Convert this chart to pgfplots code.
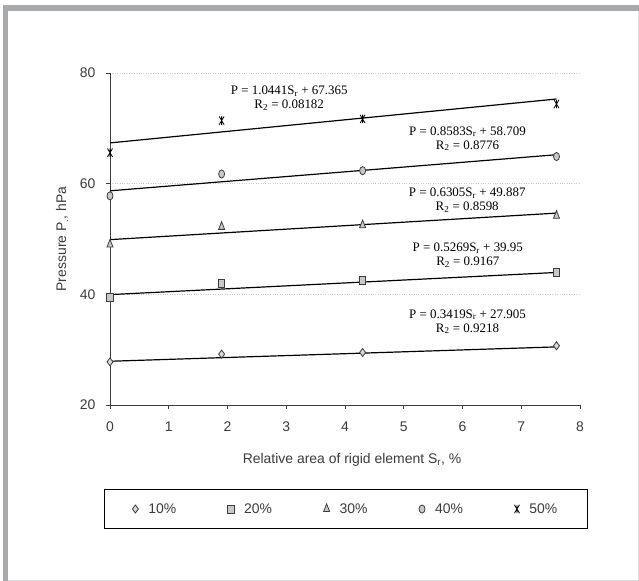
\documentclass[border=0pt]{standalone}
\usepackage{pgfplots}
\pgfplotsset{compat=1.18}
\usepackage{fontspec}
\setmainfont{Liberation Sans}
\newfontfamily\serifeq{Liberation Serif}
\definecolor{framegray}{RGB}{168,169,171}
\definecolor{framelight}{RGB}{225,225,225}
\definecolor{markgray}{RGB}{200,200,200}
\definecolor{axgray}{RGB}{60,60,60}

\pgfdeclareplotmark{xstar}{%
 \pgfpathmoveto{\pgfqpoint{-0.6\pgfplotmarksize}{-\pgfplotmarksize}}%
 \pgfpathlineto{\pgfqpoint{0.6\pgfplotmarksize}{\pgfplotmarksize}}%
 \pgfpathmoveto{\pgfqpoint{-0.6\pgfplotmarksize}{\pgfplotmarksize}}%
 \pgfpathlineto{\pgfqpoint{0.6\pgfplotmarksize}{-\pgfplotmarksize}}%
 \pgfpathmoveto{\pgfqpoint{0pt}{-\pgfplotmarksize}}%
 \pgfpathlineto{\pgfqpoint{0pt}{\pgfplotmarksize}}%
 \pgfusepathqstroke}

\newcommand{\eqfont}{\serifeq\fontsize{13}{14}\selectfont}

\begin{document}
\begin{tikzpicture}
\begin{scope}[shift={(-110bp,-176bp)}]
\fill[white] (0bp,0bp) rectangle (639bp,581bp);
\fill[framegray] (3bp,0bp) rectangle (8bp,576bp);
\fill[framegray] (3bp,570bp) rectangle (639bp,576bp);
\draw[framelight, line width=1bp] (8bp,1bp) -- (638bp,1bp) -- (638bp,570bp);
\end{scope}
\begin{axis}[
  scale only axis, width=470bp, height=332bp,
  clip=false,
  axis lines*=left,
  axis line style={line width=0.8bp, axgray},
  tick style={axgray, line width=0.8bp},
  tick align=outside,
  major tick length=4bp,
  xmin=0, xmax=8, ymin=20, ymax=80,
  xtick={0,1,2,3,4,5,6,7,8}, ytick={20,40,60,80},
  ymajorgrids, grid style={dotted, black!20, line width=0.6bp},
  tick label style={font=\fontsize{14}{16}\selectfont, text=axgray},
  xticklabel style={yshift=-9bp},
  yticklabel style={xshift=-7bp},
  label style={font=\fontsize{14}{16}\selectfont, text=axgray},
  /pgf/number format/assume math mode=true,
  xlabel={Relative area of rigid element S\textsubscript{r}, \%},
  ylabel={Pressure P\textsubscript{.}, hPa},
  xlabel style={at={(axis description cs:0.515,-0.1657)}, anchor=center},
  ylabel style={at={(axis description cs:-0.102,0.5)}, anchor=center},
  legend columns=5,
  legend image code/.code={\draw[#1] plot coordinates {(0bp,0bp)};},
  legend style={at={(axis description cs:-0.0128,-0.253)}, anchor=north west,
    draw=black, line width=0.8bp, inner xsep=28bp, inner ysep=12bp,
    font=\fontsize{14}{16}\selectfont, text=axgray,
    /tikz/every odd column/.append style={column sep=8bp},
    /tikz/every even column/.append style={column sep=49.5bp}},
]
% trend lines
\addplot[forget plot, black, line width=1.2bp] coordinates {(0,27.905) (7.6,30.503)};
\addplot[forget plot, black, line width=1.2bp] coordinates {(0,39.95) (7.6,43.954)};
\addplot[forget plot, black, line width=1.2bp] coordinates {(0,49.887) (7.6,54.679)};
\addplot[forget plot, black, line width=1.2bp] coordinates {(0,58.709) (7.6,65.232)};
\addplot[forget plot, black, line width=1.2bp] coordinates {(0,67.365) (7.6,75.300)};
% data
\addplot[only marks, mark=diamond*, mark size=4bp, mark options={fill=white!85!black, draw=axgray, line width=0.8bp}]
  coordinates {(0,27.8) (1.9,29.2) (4.3,29.5) (7.6,30.7)};
\addlegendentry{10\%}
\addplot[only marks, mark=square*, mark size=3.2bp, mark options={yscale=1.25, fill=markgray, draw=axgray, line width=0.8bp}]
  coordinates {(0,39.5) (1.9,42.0) (4.3,42.5) (7.6,44.0)};
\addlegendentry{20\%}
\addplot[only marks, mark=triangle*, mark size=3.5bp, mark options={yscale=1.45, fill=markgray, draw=axgray, line width=0.8bp}]
  coordinates {(0,49.0) (1.9,52.2) (4.3,52.5) (7.6,54.2)};
\addlegendentry{30\%}
\addplot[only marks, mark=*, mark size=3bp, mark options={yscale=1.35, fill=markgray, draw=axgray, line width=0.8bp}]
  coordinates {(0,57.8) (1.9,61.75) (4.3,62.35) (7.6,64.9)};
\addlegendentry{40\%}
\addplot[only marks, mark=xstar, mark size=4.2bp, mark options={draw=black, line width=0.8bp}]
  coordinates {(0,65.6) (1.9,71.4) (4.3,71.7) (7.6,74.4)};
\addlegendentry{50\%}
% equations
\node[align=center, font=\eqfont] at (axis cs:3.05,75.48) {P = 1.0441S\textsubscript{r} + 67.365\\R\textsubscript{2} = 0.08182};
\node[align=center, font=\eqfont] at (axis cs:6.085,68.13) {P = 0.8583S\textsubscript{r} + 58.709\\R\textsubscript{2} = 0.8776};
\node[align=center, font=\eqfont] at (axis cs:6.08,57.05) {P = 0.6305S\textsubscript{r} + 49.887\\R\textsubscript{2} = 0.8598};
\node[align=center, font=\eqfont] at (axis cs:6.09,47.11) {P = 0.5269S\textsubscript{r} + 39.95\\R\textsubscript{2} = 0.9167};
\node[align=center, font=\eqfont] at (axis cs:6.085,35.05) {P = 0.3419S\textsubscript{r} + 27.905\\R\textsubscript{2} = 0.9218};
\end{axis}
\pgfresetboundingbox
\useasboundingbox (-110bp,-176bp) rectangle (529bp,405bp);
\end{tikzpicture}
\end{document}
